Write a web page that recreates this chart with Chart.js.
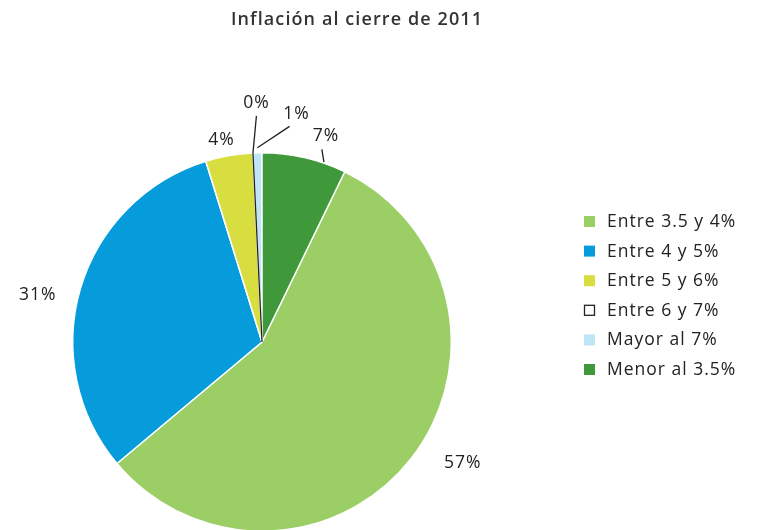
<!DOCTYPE html>
<html>
<head>
<meta charset="utf-8">
<script src="https://cdn.jsdelivr.net/npm/chart.js@4"></script>
<style>
  html, body { margin: 0; padding: 0; background: #fff; overflow: hidden; }
  #wrap { width: 758px; height: 540px; }
</style>
</head>
<body>
<div id="wrap"><canvas id="pieChart" width="758" height="540"></canvas></div>
<script>
// datos (en %), en el orden de la leyenda
const categorias = ['Entre 3.5 y 4%', 'Entre 4 y 5%', 'Entre 5 y 6%', 'Entre 6 y 7%', 'Mayor al 7%', 'Menor al 3.5%'];
const valores = [56.7, 31.3, 4.04, 0, 0.76, 7.2];
const etiquetas = ['57%', '31%', '4%', '0%', '1%', '7%'];
const colores = ['#9bce64', '#069cdb', '#d8de40', '#ffffff', '#bfe4f6', '#3f993b'];

const titulo = 'Inflación al cierre de 2011';
const FONT = '"Open Sans", "Noto Sans", sans-serif';

// ajuste de las etiquetas: giro (grados) y distancia extra sobre el radio
const ajusteEtiquetas = [
  { da: -7, dr: 45 },
  { da: -4.5, dr: 40 },
  { da: -1.3, dr: 17 },
  { da: 1.4, dr: 50 },
  { da: 10, dr: 41 },
  { da: 4.3, dr: 26 }
];

const rad = d => d * Math.PI / 180;

const extrasPlugin = {
  id: 'extras',
  afterDatasetsDraw(chart) {
    const c = chart.ctx;
    const arcs = chart.getDatasetMeta(0).data;
    c.save();

    // titulo
    c.fillStyle = '#333';
    c.font = '600 18px ' + FONT;
    c.letterSpacing = '1.1px';
    c.textAlign = 'center';
    c.textBaseline = 'middle';
    c.fillText(titulo, 357, 20);

    // etiquetas de porcentaje
    c.font = '17.5px ' + FONT;
    c.letterSpacing = '1px';
    c.fillStyle = '#222';
    c.strokeStyle = '#222';
    c.lineWidth = 1.3;
    arcs.forEach((a, i) => {
      const cx = a.x, cy = a.y, R = a.outerRadius;
      const mid = (a.startAngle + a.endAngle) / 2 + rad(ajusteEtiquetas[i].da);
      const r = R + ajusteEtiquetas[i].dr;
      const lx = cx + r * Math.cos(mid), ly = cy + r * Math.sin(mid);
      c.fillText(etiquetas[i], lx, ly);

      if (i === 3) {
        // linea de la porcion 0%: radio de la porcion y guia hasta la etiqueta
        const ex = cx + R * Math.cos(a.startAngle), ey = cy + R * Math.sin(a.startAngle);
        c.beginPath();
        c.moveTo(cx, cy);
        c.lineTo(ex, ey);
        c.lineTo(lx, ly + 13);
        c.stroke();
      }
      if (i === 4) {
        const m = (a.startAngle + a.endAngle) / 2;
        c.beginPath();
        c.moveTo(cx + (R + 5) * Math.cos(m), cy + (R + 5) * Math.sin(m));
        c.lineTo(lx - 7, ly + 12);
        c.stroke();
      }
      if (i === 5) {
        const m = a.startAngle + rad(19);
        c.beginPath();
        c.moveTo(cx + (R + 1) * Math.cos(m), cy + (R + 1) * Math.sin(m));
        c.lineTo(lx - 4, ly + 13);
        c.stroke();
      }
    });

    // leyenda
    const lx0 = 584, ly0 = 222, paso = 29.6;
    c.textAlign = 'left';
    c.font = '17.5px ' + FONT;
    c.letterSpacing = '1px';
    categorias.forEach((cat, i) => {
      const y = ly0 + i * paso;
      c.fillStyle = colores[i];
      c.fillRect(lx0, y - 6, 11, 11);
      if (i === 3) {
        c.strokeStyle = '#222';
        c.lineWidth = 1.3;
        c.strokeRect(lx0 + 0.5, y - 5.5, 10, 10);
      }
      c.fillStyle = '#222';
      c.fillText(cat, lx0 + 23, y);
    });
    c.restore();
  }
};

const ctx = document.getElementById('pieChart').getContext('2d');
new Chart(ctx, {
  type: 'pie',
  data: {
    labels: categorias,
    datasets: [{
      data: valores,
      backgroundColor: colores,
      borderColor: '#ffffff',
      borderWidth: 1.5,
      hoverOffset: 0
    }]
  },
  options: {
    responsive: false,
    animation: false,
    rotation: 7.2 * 3.6,
    layout: { padding: { left: 72, right: 306, top: 152, bottom: 8 } },
    plugins: {
      legend: { display: false },
      title: { display: false },
      tooltip: { enabled: false }
    }
  },
  plugins: [extrasPlugin]
});
</script>
</body>
</html>
